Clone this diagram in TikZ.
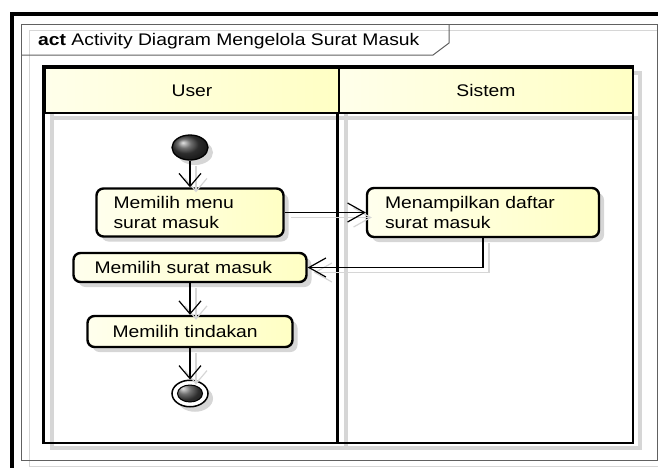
\documentclass[tikz,border=0pt]{standalone}
\usepackage{fontspec}
\setmainfont{Liberation Sans}[FakeStretch=1.15]
\usetikzlibrary{arrows.meta,positioning,calc,shapes.geometric,shadows}
\definecolor{umlYellow}{RGB}{255,255,196}
\colorlet{ShadowGrey}{black!16}
\colorlet{FrameGrey}{black!62}

\begin{document}
\begin{tikzpicture}[
    x=1pt,y=-1pt,
    every node/.style={font=\fontsize{16.8}{20}\selectfont},
    lane/.style={line width=2.6pt,draw=black},
    lanehead/.style={lane,left color=umlYellow!35!white,right color=umlYellow,
      minimum width=294pt,minimum height=45pt,inner sep=0pt},
    umlshadow/.style={drop shadow={shadow xshift=5pt,shadow yshift=-5pt,
      fill=ShadowGrey,opacity=1}},
    act/.style={rectangle,rounded corners=7pt,draw=black,line width=2.4pt,
      left color=umlYellow!30!white,right color=umlYellow,align=left,
      inner ysep=0pt,umlshadow},
    flowv/.style={-{Straight Barb[length=13pt,width=22pt]},line width=1.2pt},
    flowh/.style={-{Straight Barb[length=17pt,width=19pt]},line width=1.2pt},
    flowshadow/.style={draw=ShadowGrey,transform canvas={shift={(6pt,-5pt)}}}
  ]
  \useasboundingbox (0,0) rectangle (658,467);

  \draw[line width=3.2pt] (12,480) -- (12,14) -- (670,14);
  \draw[ShadowGrey,line width=1pt] (29,30) rectangle (670,466);
  \draw[FrameGrey,line width=1pt] (21,24) rectangle (657,460);
  \draw[FrameGrey,line width=1pt] (21,55) -- (433,55) -- (449,43) -- (449,24);
  \node[anchor=west,inner sep=0pt] (title) at (38,41)
    {\textbf{act} Activity Diagram Mengelola Surat Masuk};

  \begin{scope}[shift={(7,5)},ShadowGrey,line width=4pt]
    \draw (45,68) rectangle (633,443);
    \draw (339,68) -- (339,443);
    \draw (45,113) -- (633,113);
  \end{scope}
  \coordinate (laneend) at (633,443);
  \node[lanehead] (user) at (192,90.5) {User};
  \node[lanehead] (sistem) at (486,90.5) {Sistem};
  \draw[lane] (user.north west) rectangle (laneend);
  \draw[lane] (sistem.south west) -- (sistem.south west |- laneend);

  \node[ellipse,minimum width=36pt,minimum height=25pt,inner sep=0pt,draw,
    line width=1.3pt,ball color=black!75,umlshadow] (start) at (190,147.5) {};
  \node[act,text width=153pt,inner xsep=17pt,minimum height=48pt]
    (milihmenu) at (190,212.5) {Memilih menu\\surat masuk};
  \node[act,text width=196pt,inner xsep=18pt,minimum height=49pt]
    (tampil) at (483,212.5) {Menampilkan daftar\\surat masuk};
  \node[act,text width=191pt,inner xsep=21pt,minimum height=29pt]
    (milihsurat) at (190,267.5) {Memilih surat masuk};
  \node[act,text width=155pt,inner xsep=25pt,minimum height=31pt]
    (tindakan) at (190,331.5) {Memilih tindakan};
  \node[ellipse,minimum width=36pt,minimum height=26.5pt,inner sep=0pt,draw,
    line width=1.5pt,fill=white,umlshadow,
    path picture={\shadedraw[ball color=black!75,line width=1pt]
      (path picture bounding box.center) ellipse [x radius=12.5,y radius=8.5];}]
    (end) at (190,393.5) {};

  \draw[flowv,flowshadow] (start) -- (milihmenu);
  \draw[flowh,flowshadow] (milihmenu) -- (tampil);
  \draw[flowh,flowshadow] (tampil.south) |- (milihsurat.east);
  \draw[flowv,flowshadow] (milihsurat) -- (tindakan);
  \draw[flowv,flowshadow] (tindakan) -- (end);

  \draw[flowv] (start) -- (milihmenu);
  \draw[flowh] (milihmenu) -- (tampil);
  \draw[flowh] (tampil.south) |- (milihsurat.east);
  \draw[flowv] (milihsurat) -- (tindakan);
  \draw[flowv] (tindakan) -- (end);
\end{tikzpicture}
\end{document}
